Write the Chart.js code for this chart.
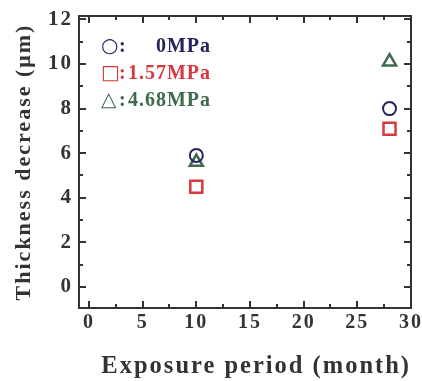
<!DOCTYPE html>
<html>
<head>
<meta charset="utf-8">
<script src="https://cdn.jsdelivr.net/npm/chart.js@4.4.1/dist/chart.umd.min.js"></script>
<style>
  body { margin: 0; background: #fff; }
  #wrap { width: 422px; height: 381px; }
</style>
</head>
<body>
<div id="wrap"><canvas id="chart" width="422" height="381"></canvas></div>
<script>
// exposure period (month)
const months = [10, 28];
// thickness decrease (um) per applied stress
const series0 = [5.9, 8.0];
const series157 = [4.5, 7.1];
const series468 = [5.6, 10.1];

const seriesNames = ["0MPa", "1.57MPa", "4.68MPa"];
const seriesSymbols = ["○", "□", "△"];
const seriesColors = ["#26245e", "#d8383e", "#3d6b4b"];

const xTicks = [0, 5, 10, 15, 20, 25, 30];
const xMinorTicks = [2.5, 7.5, 12.5, 17.5, 22.5, 27.5];
const yTicks = [0, 2, 4, 6, 8, 10, 12];
const yMinorTicks = [1, 3, 5, 7, 9, 11];

const serif = "'Liberation Serif', 'Times New Roman', serif";
const ink = "#333";

function toPoints(values) {
  return months.map((m, i) => ({ x: m, y: values[i] }));
}

// frame with inward ticks on all four sides
const frameTicks = {
  id: "frameTicks",
  beforeDraw(chart) {
    chart.ctx.letterSpacing = "2px";
  },
  beforeDatasetsDraw(chart) {
    const { ctx, chartArea: a, scales: { x, y } } = chart;
    ctx.save();
    ctx.strokeStyle = ink;
    ctx.lineWidth = 2;
    ctx.beginPath();
    const vTicks = (list, len) => list.forEach(v => {
      const px = Math.round(x.getPixelForValue(v));
      ctx.moveTo(px, a.bottom); ctx.lineTo(px, a.bottom - len);
      ctx.moveTo(px, a.top); ctx.lineTo(px, a.top + len);
    });
    const hTicks = (list, len) => list.forEach(v => {
      const py = Math.round(y.getPixelForValue(v));
      ctx.moveTo(a.left, py); ctx.lineTo(a.left + len, py);
      ctx.moveTo(a.right, py); ctx.lineTo(a.right - len, py);
    });
    vTicks(xTicks, 7);
    vTicks(xMinorTicks, 4);
    hTicks(yTicks, 7);
    hTicks(yMinorTicks, 4);
    ctx.stroke();
    ctx.strokeRect(a.left, a.top, a.right - a.left, a.bottom - a.top);
    ctx.restore();
  }
};

// in-plot legend: symbol, colon, value
const legendText = {
  id: "legendText",
  afterDraw(chart) {
    const ctx = chart.ctx;
    ctx.save();
    ctx.textBaseline = "middle";
    seriesNames.forEach((name, i) => {
      const yy = 47 + i * 27;
      ctx.fillStyle = seriesColors[i];
      ctx.letterSpacing = "0px";
      ctx.font = "20px 'DejaVu Sans'";
      ctx.textAlign = "left";
      ctx.fillText(seriesSymbols[i], 101, yy);
      ctx.font = "bold 20px " + serif;
      ctx.fillText(":", 119, yy);
      ctx.letterSpacing = "1px";
      ctx.textAlign = "right";
      ctx.fillText(name, 211, yy);
    });
    ctx.restore();
  }
};

new Chart(document.getElementById("chart"), {
  type: "scatter",
  data: {
    datasets: [
      {
        label: seriesNames[0],
        data: toPoints(series0),
        pointStyle: "circle",
        pointRadius: 6.5,
        borderColor: seriesColors[0],
        backgroundColor: "rgba(0,0,0,0)",
        borderWidth: 2
      },
      {
        label: seriesNames[1],
        data: toPoints(series157),
        pointStyle: "rect",
        pointRadius: 8.5,
        borderColor: seriesColors[1],
        backgroundColor: "rgba(0,0,0,0)",
        borderWidth: 2.5
      },
      {
        label: seriesNames[2],
        data: toPoints(series468),
        pointStyle: "triangle",
        pointRadius: 7.5,
        borderColor: seriesColors[2],
        backgroundColor: "rgba(0,0,0,0)",
        borderWidth: 2.5
      }
    ]
  },
  options: {
    responsive: false,
    animation: false,
    layout: { padding: { top: 16, right: 11, left: 0, bottom: 0 } },
    plugins: {
      legend: { display: false },
      tooltip: { enabled: false }
    },
    scales: {
      x: {
        type: "linear",
        min: -0.93,
        max: 30,
        grid: { display: false, drawTicks: false },
        border: { display: false },
        afterBuildTicks: s => { s.ticks = xTicks.map(v => ({ value: v })); },
        afterFit: s => { s.height = 73; s.paddingLeft = 0; s.paddingRight = 0; },
        ticks: {
          color: ink,
          font: { family: serif, size: 20, weight: "bold" },
          padding: 3,
          maxRotation: 0,
          autoSkip: false
        },
        title: {
          display: true,
          text: "Exposure period (month)",
          align: "end",
          color: ink,
          font: { family: serif, size: 24.5, weight: "bold" },
          padding: { top: 0, bottom: 0 }
        }
      },
      y: {
        type: "linear",
        min: -0.94,
        max: 12.15,
        grid: { display: false, drawTicks: false },
        border: { display: false },
        afterBuildTicks: s => { s.ticks = yTicks.map(v => ({ value: v })); },
        afterFit: s => { s.width = 79; s.paddingTop = 0; s.paddingBottom = 0; },
        ticks: {
          color: ink,
          font: { family: serif, size: 21, weight: "bold" },
          padding: 6,
          autoSkip: false
        },
        title: {
          display: true,
          text: "Thickness decrease (μm)",
          color: ink,
          font: { family: serif, size: 22, weight: "bold" },
          padding: { top: 11, bottom: 0 }
        }
      }
    }
  },
  plugins: [frameTicks, legendText]
});
</script>
</body>
</html>
